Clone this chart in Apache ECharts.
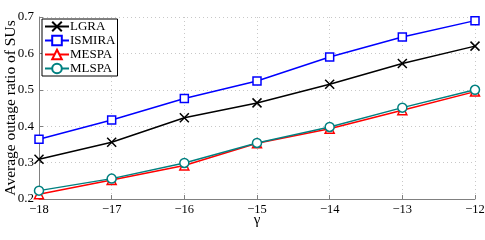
<!DOCTYPE html>
<html><head><meta charset="utf-8">
<script src="https://cdn.jsdelivr.net/npm/echarts@6/dist/echarts.min.js"></script>
<style>html,body{margin:0;padding:0;background:#fff}#c{width:485px;height:240px}</style>
</head><body><div id="c"></div>
<script>
const gammas = [-18, -17, -16, -15, -14, -13, -12];
const yTicks = [0.2, 0.3, 0.4, 0.5, 0.6, 0.7];
const LGRA = [0.309, 0.356, 0.423, 0.464, 0.515, 0.572, 0.620];
const ISMIRA = [0.364, 0.417, 0.476, 0.524, 0.590, 0.645, 0.690];
const MESPA = [0.213, 0.252, 0.292, 0.353, 0.393, 0.444, 0.495];
const MLSPA = [0.223, 0.256, 0.299, 0.354, 0.398, 0.451, 0.500];

const font = 'Liberation Serif';
const cross = 'path://M0,0L10,10M10,0L0,10';
function mk(name, data, color, symbol, size) {
  return {
    name, type: 'line', data: gammas.map((g, i) => [g, data[i]]),
    symbol, symbolSize: size, showAllSymbol: true,
    lineStyle: { color, width: 1.5 },
    itemStyle: { color: symbol === cross ? color : '#fff', borderColor: color, borderWidth: 1.5 },
    emphasis: { disabled: true }, animation: false
  };
}
const chart = echarts.init(document.getElementById('c'));
chart.setOption({
  animation: false,
  grid: { left: 39, right: 10, top: 17, bottom: 41, outerBoundsMode: 'none', containLabel: false },
  legend: {
    orient: 'vertical', left: 42, top: 19, itemGap: 1, itemWidth: 24, itemHeight: 12,
    padding: [1, 2, 1, 2],
    borderColor: '#000', borderWidth: 1, backgroundColor: '#fff',
    textStyle: { fontFamily: font, fontSize: 13, color: '#000', padding: [0, 0, 0, -4] },
    data: ['LGRA', 'ISMIRA', 'MESPA', 'MLSPA']
  },
  xAxis: {
    type: 'value', min: -18, max: -12, interval: 1,
    name: 'γ', nameLocation: 'middle', nameGap: 14, nameMoveOverlap: false,
    nameTextStyle: { fontFamily: font, fontSize: 15, color: '#000' },
    axisLine: { lineStyle: { color: '#808080', width: 1 }, onZero: false },
    axisTick: { inside: true, length: 4, lineStyle: { color: '#808080' } },
    axisLabel: { fontFamily: font, fontSize: 12.5, color: '#000', margin: 4,
      formatter: v => (v < 0 ? '\u2212' + Math.abs(v) : '' + v) },
    splitLine: { show: true, lineStyle: { color: '#c8c8c8', type: [1, 3], width: 1 } }
  },
  yAxis: {
    type: 'value', min: 0.2, max: 0.7, interval: 0.1,
    name: 'Average outage ratio of SUs', nameLocation: 'middle', nameGap: 20, nameMoveOverlap: false,
    nameTextStyle: { fontFamily: font, fontSize: 15.5, color: '#000' },
    axisLine: { show: true, lineStyle: { color: '#808080', width: 1 } },
    axisTick: { show: true, inside: true, length: 4, lineStyle: { color: '#808080' } },
    axisLabel: { fontFamily: font, fontSize: 13, color: '#000', margin: 5,
      formatter: v => v.toFixed(1) },
    splitLine: { show: true, lineStyle: { color: '#c8c8c8', type: [1, 3], width: 1 } }
  },
  series: [
    mk('LGRA', LGRA, '#000000', cross, 9),
    mk('ISMIRA', ISMIRA, '#0000ff', 'rect', 8),
    mk('MESPA', MESPA, '#ff0000', 'triangle', 9),
    mk('MLSPA', MLSPA, '#008080', 'circle', 9)
  ]
});
</script></body></html>
